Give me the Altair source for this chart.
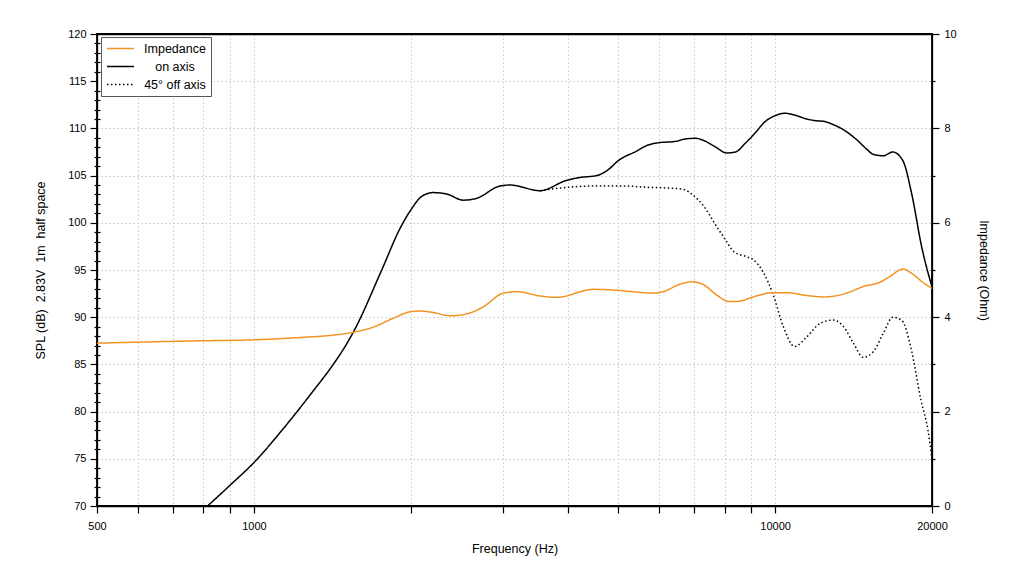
import altair as alt
import pandas as pd

# ---------------- data ----------------
series_names = ["Impedance", "on axis", "45\u00b0 off axis"]

on_freq = [815, 900, 1000, 1139, 1300, 1420, 1500, 1551, 1759, 1907, 2008, 2099,
           2209, 2344, 2522, 2676, 2967, 3098, 3540, 3981, 4222, 4546, 4752, 5020,
           5426, 5681, 6014, 6400, 6765, 7038, 7310, 7653, 8076, 8390, 8755, 9150,
           9561, 10000, 10450, 10920, 11500, 12020, 12380, 12930, 13620, 14340,
           14990, 15430, 16130, 16820, 17580, 18280, 19100, 20000]
on_spl = [70.0, 72.2, 74.6, 78.2, 82.2, 85.0, 87.0, 88.4, 95.0, 99.4, 101.5, 102.8,
          103.2, 103.05, 102.4, 102.6, 103.9, 104.0, 103.4, 104.5, 104.8, 105.0, 105.5, 106.65,
          107.6, 108.2, 108.5, 108.6, 108.9, 108.95, 108.7, 108.1, 107.4, 107.5, 108.4, 109.5,
          110.7, 111.35, 111.6, 111.4, 111.0, 110.8, 110.75, 110.4, 109.75, 108.8,
          107.8, 107.25, 107.1, 107.5, 106.6, 103.1, 97.5, 93.2]

off_freq = [3540, 3981, 4479, 5097, 5737, 6400, 6705, 6967, 7310, 7653, 8031, 8330,
            8821, 9080, 9480, 9900, 10370, 10900, 11500, 12200, 12930, 13530, 14150,
            14760, 15430, 16130, 16820, 17510, 18200, 19050, 19650, 20000]
off_spl = [103.4, 103.75, 103.9, 103.9, 103.75, 103.65, 103.5, 102.9, 101.7, 99.95, 98.2, 96.95,
           96.4, 96.1, 94.8, 92.5, 89.0, 86.9, 87.9, 89.35, 89.7, 89.0, 87.2,
           85.75, 86.35, 88.3, 90.0, 89.65, 86.9, 81.2, 78.0, 75.0]

imp_freq = [500, 788, 1000, 1226, 1420, 1551, 1695, 1852, 2008, 2085, 2209, 2378,
            2561, 2755, 3010, 3193, 3540, 3811, 4479, 4820, 5344, 5838, 6098, 6569,
            6967, 7310, 7727, 8160, 8557, 9080, 9900, 10520, 11500, 12380, 13180,
            13800, 14760, 15890, 16590, 17580, 18280, 19250, 20000]
imp_ohm = [3.45, 3.50, 3.52, 3.57, 3.62, 3.68, 3.79, 3.98, 4.12, 4.13, 4.10, 4.03,
           4.07, 4.22, 4.51, 4.54, 4.45, 4.42, 4.59, 4.58, 4.54, 4.51, 4.54, 4.70,
           4.75, 4.68, 4.47, 4.33, 4.34, 4.43, 4.52, 4.52, 4.46, 4.43, 4.46,
           4.52, 4.65, 4.74, 4.86, 5.02, 4.93, 4.73, 4.61]

x_ticks = [500, 600, 700, 800, 900, 1000, 2000, 3000, 4000, 5000, 6000, 7000,
           8000, 9000, 10000, 20000]
x_labelled = [500, 1000, 10000, 20000]
spl_major = [70, 75, 80, 85, 90, 95, 100, 105, 110, 115, 120]
spl_grid = [75, 80, 85, 90, 95, 100, 105, 110, 115]
spl_minor = [v for v in range(70, 121) if v % 5 != 0]
imp_major = [0, 2, 4, 6, 8, 10]
imp_minor = [1, 3, 5, 7, 9]

# ---------------- tables ----------------
spl_df = pd.concat([
    pd.DataFrame({"freq": on_freq, "spl": on_spl, "series": series_names[1]}),
    pd.DataFrame({"freq": off_freq, "spl": off_spl, "series": series_names[2]}),
], ignore_index=True)
imp_df = pd.DataFrame({"freq": imp_freq, "ohm": imp_ohm, "series": series_names[0]})

FONT = "Liberation Sans"
ORANGE = "#F29220"

xscale = alt.Scale(type="log", domain=[500, 20000], nice=False)
spl_scale = alt.Scale(domain=[70, 120], nice=False, zero=False)
imp_scale = alt.Scale(domain=[0, 10], nice=False, zero=False)

legend = alt.Legend(
    title=None, orient="none", legendX=4, legendY=3,
    symbolType="stroke", symbolSize=729, symbolStrokeWidth=1.5,
    labelFont=FONT, labelFontSize=12.5, labelColor="black",
    labelAlign="center", labelOffset=40, clipHeight=13, rowPadding=5,
    strokeColor="#555555", fillColor="white", padding=5,
)
color = alt.Color("series:N", sort=series_names,
                  scale=alt.Scale(domain=series_names, range=[ORANGE, "black", "black"]),
                  legend=legend)
dash = alt.StrokeDash("series:N", sort=series_names,
                      scale=alt.Scale(domain=series_names, range=[[1, 0], [1, 0], [1.5, 2.5]]),
                      legend=legend)

x_axis = alt.Axis(
    orient="bottom", values=x_ticks, title="Frequency (Hz)",
    labelExpr="indexof([" + ",".join(str(v) for v in x_labelled) + "], datum.value) >= 0 ? '' + datum.value : ''",
    labelOverlap=False, labelFlush=False, tickSize=7, labelPadding=7,
    grid=True, titlePadding=11,
)
x_main = alt.X("freq:Q", scale=xscale, axis=x_axis)
x_plain = alt.X("freq:Q", scale=xscale, axis=None)
x_top = alt.X("freq:Q", scale=xscale,
              axis=alt.Axis(orient="top", domain=True, ticks=False, labels=False,
                            grid=False, title=None, domainWidth=1.5))

line_kw = dict(clip=True, strokeWidth=1.5, interpolate="monotone")

spl_grid_layer = alt.Chart(spl_df).mark_point(opacity=0).encode(
    x=x_plain,
    y=alt.Y("spl:Q", scale=spl_scale,
            axis=alt.Axis(orient="left", values=spl_grid, ticks=False, labels=False,
                          domain=False, grid=True, title=None)),
)

spl_layer = alt.Chart(spl_df).mark_line(**line_kw).encode(
    x=x_main,
    y=alt.Y("spl:Q", scale=spl_scale,
            axis=alt.Axis(orient="left", values=spl_major, tickSize=7, labelPadding=4,
                          grid=False, labelFlush=False,
                          title="SPL (dB)\u00a0 2.83V\u00a0 1m\u00a0 half space",
                          titlePadding=20)),
    color=color, strokeDash=dash, detail="series:N",
)

spl_minor_layer = alt.Chart(spl_df).mark_point(opacity=0).encode(
    x=x_plain,
    y=alt.Y("spl:Q", scale=spl_scale,
            axis=alt.Axis(orient="left", values=spl_minor, tickSize=6, offset=-3,
                          labels=False, domain=False, grid=False, title=None)),
)

imp_layer = alt.Chart(imp_df).mark_line(**line_kw).encode(
    x=x_plain,
    y=alt.Y("ohm:Q", scale=imp_scale,
            axis=alt.Axis(orient="right", values=imp_major, tickSize=7, labelPadding=5,
                          grid=False, labelFlush=False, title="Impedance (Ohm)",
                          titlePadding=20)),
    color=color, strokeDash=dash,
)

imp_minor_layer = alt.Chart(imp_df).mark_point(opacity=0).encode(
    x=x_top,
    y=alt.Y("ohm:Q", scale=imp_scale,
            axis=alt.Axis(orient="right", values=imp_minor, tickSize=3,
                          labels=False, domain=False, grid=False, title=None)),
)

chart = alt.layer(spl_grid_layer, spl_layer, spl_minor_layer, imp_layer, imp_minor_layer).resolve_scale(
    y="independent"
).resolve_axis(
    x="independent"
).properties(
    width=835, height=472,
    autosize=alt.AutoSizeParams(type="none"),
    padding={"left": 89, "top": 26, "right": 76, "bottom": 54},
    background="white",
).configure_view(
    stroke="black", strokeWidth=1.8,
).configure_axis(
    domainColor="black", domainWidth=1.3, tickColor="black", tickWidth=1.2,
    labelColor="black", labelFont=FONT, labelFontSize=11,
    titleColor="black", titleFont=FONT, titleFontSize=12.5, titleFontWeight="normal",
    gridColor="#c8c8c8", gridDash=[1.5, 2.5], gridWidth=1,
)

chart.save("out.html", embed_options={"renderer": "svg", "actions": False})
